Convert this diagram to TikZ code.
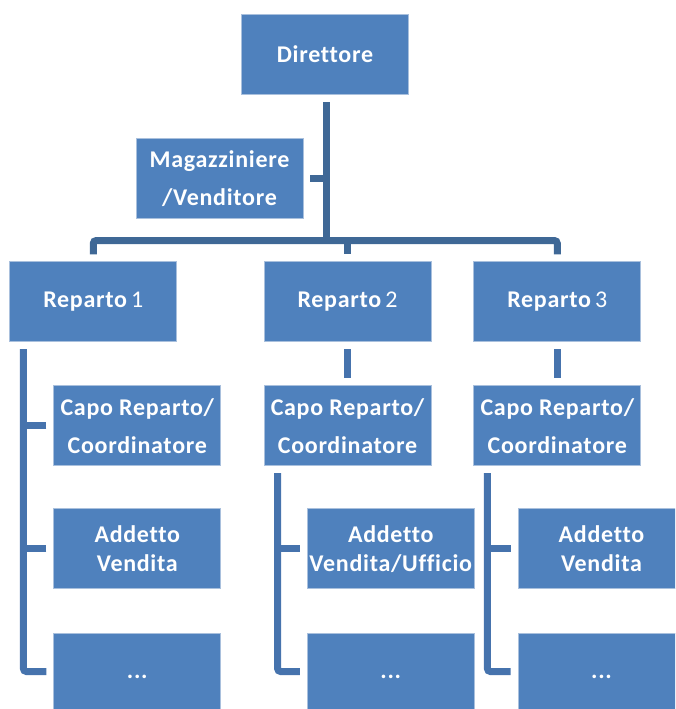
\documentclass[tikz,border=0pt]{standalone}
\usepackage{fontspec}
\setmainfont{Carlito}[Ligatures={NoCommon}, LetterSpace=3]
\definecolor{boxblue}{HTML}{4F81BD}
\definecolor{boxedge}{HTML}{A9C0DD}
\definecolor{conntop}{HTML}{3F6896}
\definecolor{connlow}{HTML}{4673AD}
\tikzset{
  orgbox/.style={rectangle, fill=boxblue, draw=boxedge, line width=0.8pt,
    minimum width=167pt, minimum height=80pt, inner sep=0pt,
    text=white, font=\fontsize{24}{38}\selectfont\bfseries, align=center},
  tightbox/.style={orgbox, font=\fontsize{24}{29}\selectfont\bfseries},
  dotbox/.style={orgbox, minimum height=88pt},
  conn/.style={line width=7pt, line cap=butt, rounded corners=3pt},
  topc/.style={conn, draw=conntop},
  lowc/.style={conn, draw=connlow}
}
\begin{document}
\begin{tikzpicture}[x=1pt,y=-1pt]
\useasboundingbox (0,0) rectangle (675,709);
\begin{scope}
\clip (0,0) rectangle (675,709);
% nodes
\node[orgbox] (dir) at (325,54.6) {Direttore};
\node[orgbox] (mag) at (219.5,178.8) {Magazziniere\\/Venditore};
\node[orgbox] (r1) at (93.3,301.7) {Reparto\,{\mdseries 1}};
\node[orgbox] (r2) at (347.5,301.7) {Reparto\,{\mdseries 2}};
\node[orgbox] (r3) at (557.3,301.7) {Reparto\,{\mdseries 3}};
\node[orgbox] (c1) at (137.3,425.8) {Capo Reparto/\\Coordinatore};
\node[orgbox] (c2) at (347.5,425.8) {Capo Reparto/\\Coordinatore};
\node[orgbox] (c3) at (557.3,425.8) {Capo Reparto/\\Coordinatore};
\node[tightbox] (a1) at (137.3,548.8) {Addetto\\Vendita};
\node[tightbox] (a2) at (390.8,548.8) {Addetto\\Vendita/Ufficio};
\node[tightbox] (a3) at (601.5,548.8) {Addetto\\Vendita};
\node[dotbox] (d1) at (137.3,677) {...};
\node[dotbox] (d2) at (390.8,677) {...};
\node[dotbox] (d3) at (601.5,677) {...};
% helper coordinates
\coordinate (bar) at (326,240.5);
\coordinate (v1) at ([xshift=14pt,yshift=-7pt]r1.south west);
\coordinate (v2) at ([xshift=14pt,yshift=-7pt]c2.south west);
\coordinate (v3) at ([xshift=14pt,yshift=-7pt]c3.south west);
% top connectors
\draw[topc] ([xshift=1pt,yshift=-7pt]dir.south) -- ([xshift=1pt]dir.south |- bar);
\draw[topc] ([xshift=7pt]mag.east) -- ([xshift=1pt]mag.east -| dir.south);
\draw[topc] ([yshift=7pt]r1.north) |- (bar) -| ([yshift=7pt]r3.north);
\draw[topc] (r2.north |- bar) -- ([yshift=7pt]r2.north);
% lower connectors
\draw[lowc] ([yshift=-7pt]r2.south) -- ([yshift=7pt]c2.north);
\draw[lowc] ([yshift=-7pt]r3.south) -- ([yshift=7pt]c3.north);
\draw[lowc] (v1) |- ([xshift=-7pt,yshift=5.5pt]d1.west);
\draw[lowc] ([xshift=-7pt]c1.west) -- (c1.west -| v1);
\draw[lowc] ([xshift=-7pt]a1.west) -- (a1.west -| v1);
\draw[lowc] (v2) |- ([xshift=-7pt,yshift=5.5pt]d2.west);
\draw[lowc] ([xshift=-7pt]a2.west) -- (a2.west -| v2);
\draw[lowc] (v3) |- ([xshift=-7pt,yshift=5.5pt]d3.west);
\draw[lowc] ([xshift=-7pt]a3.west) -- (a3.west -| v3);
\end{scope}
\end{tikzpicture}
\end{document}
